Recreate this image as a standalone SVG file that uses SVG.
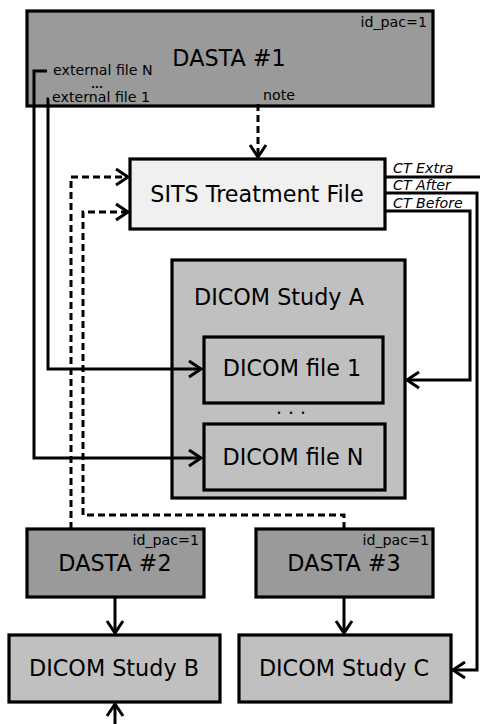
<svg xmlns="http://www.w3.org/2000/svg" width="480" height="724" viewBox="0 0 480 724">
<style>
text{font-family:"DejaVu Sans","Liberation Sans",sans-serif;fill:#000}
.box{stroke:#000;stroke-width:3.2}
.dasta{fill:#9a9a9a}
.study{fill:#c0c0c0}
.sits{fill:#f0f0f0}
.big{font-size:22.3px;text-anchor:middle}
.small{font-size:14.2px}
.ct{font-size:14.2px;font-style:italic}
.ln{fill:none;stroke:#000;stroke-width:3}
.dash{stroke-dasharray:7 4}
</style>
<defs>
<marker id="ah" viewBox="-14 -10 16 20" markerWidth="16" markerHeight="20" refX="0" refY="0" orient="auto" markerUnits="userSpaceOnUse">
<path d="M-12,-8 L0,0 L-12,8" fill="none" stroke="#000" stroke-width="3"/>
</marker>
</defs>
<g id="dasta1">
<rect class="box dasta" x="27" y="11" width="406" height="95"/>
<text class="small" x="427" y="27" text-anchor="end">id_pac=1</text>
<text class="big" x="229" y="66">DASTA #1</text>
<text class="small" x="53" y="75">external file N</text>
<text x="97" y="88" style="font-size:10px;font-weight:bold;text-anchor:middle">...</text>
<text class="small" x="52" y="102">external file 1</text>
<text class="small" x="263" y="100">note</text>
</g>
<g id="sits">
<rect class="box sits" x="130" y="159" width="255" height="70"/>
<text class="big" x="257" y="202">SITS Treatment File</text>
<text class="ct" x="393" y="173">CT Extra</text>
<text class="ct" x="393" y="190">CT After</text>
<text class="ct" x="393" y="208">CT Before</text>
</g>
<g id="studyA">
<rect class="box study" x="172" y="260" width="233" height="238"/>
<text x="194" y="305" style="font-size:22.3px">DICOM Study A</text>
</g>
<g id="file1">
<rect class="box study" x="204" y="337" width="179" height="66"/>
<text class="big" x="292" y="376">DICOM file 1</text>
</g>
<text x="291" y="420" style="font-size:19px;text-anchor:middle">· · ·</text>
<g id="fileN">
<rect class="box study" x="204" y="424" width="181" height="66"/>
<text class="big" x="293" y="465">DICOM file N</text>
</g>
<g id="dasta2">
<rect class="box dasta" x="27" y="529" width="177" height="68"/>
<text class="small" x="199" y="545" text-anchor="end">id_pac=1</text>
<text class="big" x="115" y="571">DASTA #2</text>
</g>
<g id="dasta3">
<rect class="box dasta" x="256" y="529" width="177" height="68"/>
<text class="small" x="429" y="545" text-anchor="end">id_pac=1</text>
<text class="big" x="344" y="571">DASTA #3</text>
</g>
<g id="studyB">
<rect class="box study" x="9" y="635" width="211" height="67"/>
<text class="big" x="114" y="676">DICOM Study B</text>
</g>
<g id="studyC">
<rect class="box study" x="239" y="635" width="212" height="67"/>
<text class="big" x="344" y="676">DICOM Study C</text>
</g>
<g id="connectors">
<path class="ln" d="M47,71 H34 V458 H201" marker-end="url(#ah)"/>
<path class="ln" d="M49,99 H48 V369 H201" marker-end="url(#ah)"/>
<path class="ln dash" d="M258,104 V157" marker-end="url(#ah)"/>
<path class="ln dash" d="M71,529 V177 H128" marker-end="url(#ah)"/>
<path class="ln dash" d="M344,529 V515 H83 V212 H128" marker-end="url(#ah)"/>
<path class="ln" d="M385,177 H480"/>
<path class="ln" d="M385,193 H477 V670 H453" marker-end="url(#ah)"/>
<path class="ln" d="M385,211 H470 V380 H407" marker-end="url(#ah)"/>
<path class="ln" d="M115,598 V633" marker-end="url(#ah)"/>
<path class="ln" d="M344,598 V633" marker-end="url(#ah)"/>
<path class="ln" d="M115,730 V704" marker-end="url(#ah)"/>
</g>
</svg>
